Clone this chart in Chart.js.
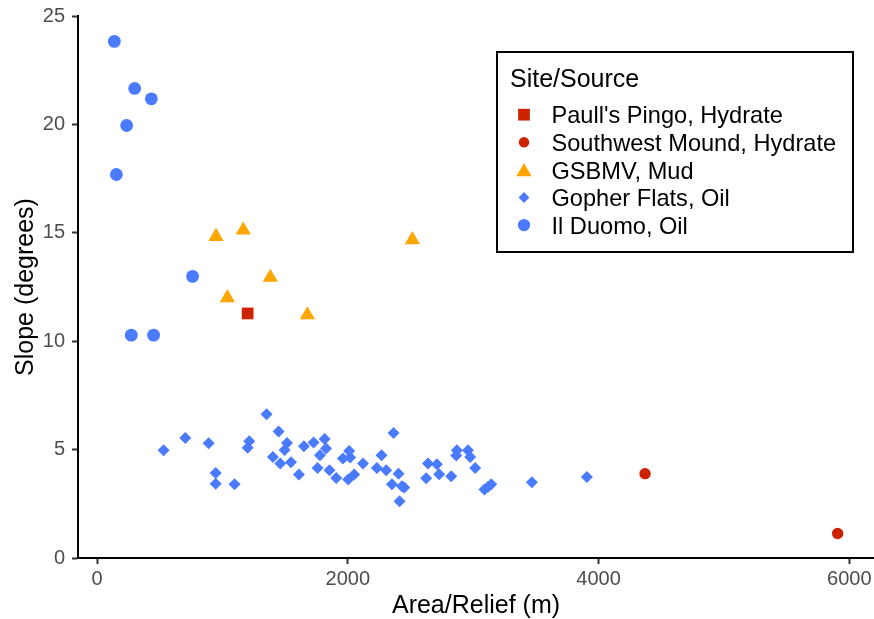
<!DOCTYPE html>
<html>
<head>
<meta charset="utf-8">
<script src="https://cdn.jsdelivr.net/npm/chart.js@4/dist/chart.umd.min.js"></script>
<style>
  html, body { margin: 0; padding: 0; background: #ffffff; }
  #wrap { width: 874px; height: 619px; position: relative; }
</style>
</head>
<body>
<div id="wrap"><canvas id="c" width="874" height="619"></canvas></div>
<script>
// ---- Data ----
const seriesNames = ["Paull's Pingo, Hydrate", "Southwest Mound, Hydrate", "GSBMV, Mud", "Gopher Flats, Oil", "Il Duomo, Oil"];

const paullX = [1201];
const paullY = [11.28];

const southwestX = [4371, 5907];
const southwestY = [3.89, 1.13];

const gsbmvX = [949, 1166, 1382, 1039, 1677, 2515];
const gsbmvY = [14.83, 15.12, 12.94, 12.0, 11.21, 14.68];

const gopherX = [531,704,890,946,946,1097,1214,1201,1352,1448,1515,1496,1403,1461,1547,1610,1650,1727,1815,1826,1778,1759,1854,1908,1961,2011,2019,2003,2051,2121,2232,2269,2306,2365,2352,2405,2413,2432,2450,2639,2711,2625,2729,2825,2870,2865,2958,2976,3016,3090,3117,3144,3468,3907];
const gopherY = [4.97,5.54,5.29,3.92,3.43,3.40,5.39,5.08,6.63,5.83,5.31,4.98,4.66,4.36,4.42,3.85,5.15,5.33,5.49,5.05,4.74,4.15,4.05,3.69,4.59,4.94,4.63,3.62,3.85,4.36,4.15,4.74,4.05,5.77,3.40,3.89,2.62,3.31,3.25,4.36,4.32,3.68,3.86,3.77,4.97,4.73,4.97,4.66,4.15,3.16,3.28,3.40,3.49,3.74];

const duomoX = [138, 300, 433, 236, 154, 762, 273, 451];
const duomoY = [23.83, 21.66, 21.18, 19.95, 17.69, 12.99, 10.28, 10.28];

const xTicks = [0, 2000, 4000, 6000];
const yTicks = [0, 5, 10, 15, 20, 25];
const xTitle = "Area/Relief (m)";
const yTitle = "Slope (degrees)";
const legendTitle = "Site/Source";

// ---- Styles ----
const RED = '#cc2200';
const ORANGE = '#ffa500';
const BLUE = '#4a7bff';
const FONT = "'Liberation Sans', Arial, Helvetica, sans-serif";

function pts(xs, ys) { return xs.map((x, i) => ({ x: x, y: ys[i] })); }

const styles = [
  { color: RED,    shape: 'rect',     r: 8.3 },
  { color: RED,    shape: 'circle',   r: 5.7 },
  { color: ORANGE, shape: 'triangle', r: 8.8 },
  { color: BLUE,   shape: 'rectRot',  r: 6.0 },
  { color: BLUE,   shape: 'circle',   r: 6.4 }
];
const seriesData = [
  pts(paullX, paullY),
  pts(southwestX, southwestY),
  pts(gsbmvX, gsbmvY),
  pts(gopherX, gopherY),
  pts(duomoX, duomoY)
];

const datasets = seriesNames.map((name, i) => ({
  label: name,
  data: seriesData[i],
  pointStyle: styles[i].shape,
  pointRadius: styles[i].r,
  pointHoverRadius: styles[i].r,
  backgroundColor: styles[i].color,
  borderColor: styles[i].color,
  borderWidth: 0,
  pointBorderWidth: 0,
  clip: false
}));

function drawShape(ctx, shape, x, y, r, color) {
  ctx.save();
  ctx.fillStyle = color;
  ctx.beginPath();
  if (shape === 'circle') {
    ctx.arc(x, y, r, 0, Math.PI * 2);
  } else if (shape === 'rect') {
    const h = r * Math.SQRT1_2;
    ctx.rect(x - h, y - h, 2 * h, 2 * h);
  } else if (shape === 'rectRot') {
    ctx.moveTo(x, y - r); ctx.lineTo(x + r, y); ctx.lineTo(x, y + r); ctx.lineTo(x - r, y);
    ctx.closePath();
  } else if (shape === 'triangle') {
    for (let k = 0; k < 3; k++) {
      const a = k * 2 * Math.PI / 3;
      const px = x + Math.sin(a) * r, py = y - Math.cos(a) * r;
      if (k === 0) ctx.moveTo(px, py); else ctx.lineTo(px, py);
    }
    ctx.closePath();
  }
  ctx.fill();
  ctx.restore();
}

const legendBox = {
  id: 'legendBox',
  afterDraw(chart) {
    const ctx = chart.ctx;
    ctx.save();
    ctx.fillStyle = '#ffffff';
    ctx.fillRect(497, 52, 356, 200);
    ctx.lineWidth = 2;
    ctx.strokeStyle = '#000000';
    ctx.strokeRect(497, 52, 356, 200);
    ctx.fillStyle = '#000000';
    ctx.textBaseline = 'alphabetic';
    ctx.textAlign = 'left';
    ctx.font = '25px ' + FONT;
    ctx.fillText(legendTitle, 510, 87);
    ctx.font = '23.6px ' + FONT;
    chart.data.datasets.forEach((ds, i) => {
      const cy = 114.7 + 27.6 * i;
      const st = styles[i];
      let lr = st.r;
      if (st.shape === 'circle' && i === 1) lr = 5.2;
      if (st.shape === 'circle' && i === 4) lr = 6.2;
      if (st.shape === 'rectRot') lr = 5.4;
      drawShape(ctx, st.shape, 524, st.shape === 'triangle' ? cy + 2 : cy, lr, st.color);
      ctx.fillStyle = '#000000';
      ctx.fillText(ds.label, 551.5, cy + 8.6);
    });
    ctx.restore();
  }
};

new Chart(document.getElementById('c'), {
  type: 'scatter',
  data: { datasets: datasets },
  options: {
    responsive: false,
    animation: false,
    devicePixelRatio: 1,
    layout: { autoPadding: false, padding: { top: 16, right: 0, left: 0, bottom: 0 } },
    plugins: {
      legend: { display: false },
      tooltip: { enabled: false }
    },
    scales: {
      x: {
        type: 'linear',
        position: 'bottom',
        min: -152,
        max: 6197,
        afterBuildTicks: (s) => { s.ticks = xTicks.map(v => ({ value: v })); },
        afterFit: (s) => { s.height = 61; s.paddingLeft = 0; s.paddingRight = 0; },
        grid: { display: true, drawOnChartArea: false, drawTicks: true, tickLength: 6, tickWidth: 2, tickColor: '#333333' },
        border: { display: true, color: '#000000', width: 2 },
        ticks: { color: '#4d4d4d', font: { family: FONT, size: 20 }, padding: 3, maxRotation: 0, autoSkip: false, callback: (v) => String(v) },
        title: { display: true, text: xTitle, color: '#000000', font: { family: FONT, size: 25, lineHeight: 1 }, padding: { top: 0, bottom: 0 } }
      },
      y: {
        type: 'linear',
        min: 0,
        max: 25,
        afterBuildTicks: (s) => { s.ticks = yTicks.map(v => ({ value: v })); },
        afterFit: (s) => { s.width = 78; s.paddingTop = 0; s.paddingBottom = 0; },
        grid: { display: true, drawOnChartArea: false, drawTicks: true, tickLength: 6, tickWidth: 2, tickColor: '#333333' },
        border: { display: true, color: '#000000', width: 2 },
        ticks: { color: '#4d4d4d', font: { family: FONT, size: 20 }, padding: 7, autoSkip: false, callback: (v) => String(v) },
        title: { display: true, text: yTitle, color: '#000000', font: { family: FONT, size: 25, lineHeight: 1 }, padding: { top: 14, bottom: 10 } }
      }
    }
  },
  plugins: [legendBox]
});
</script>
</body>
</html>
